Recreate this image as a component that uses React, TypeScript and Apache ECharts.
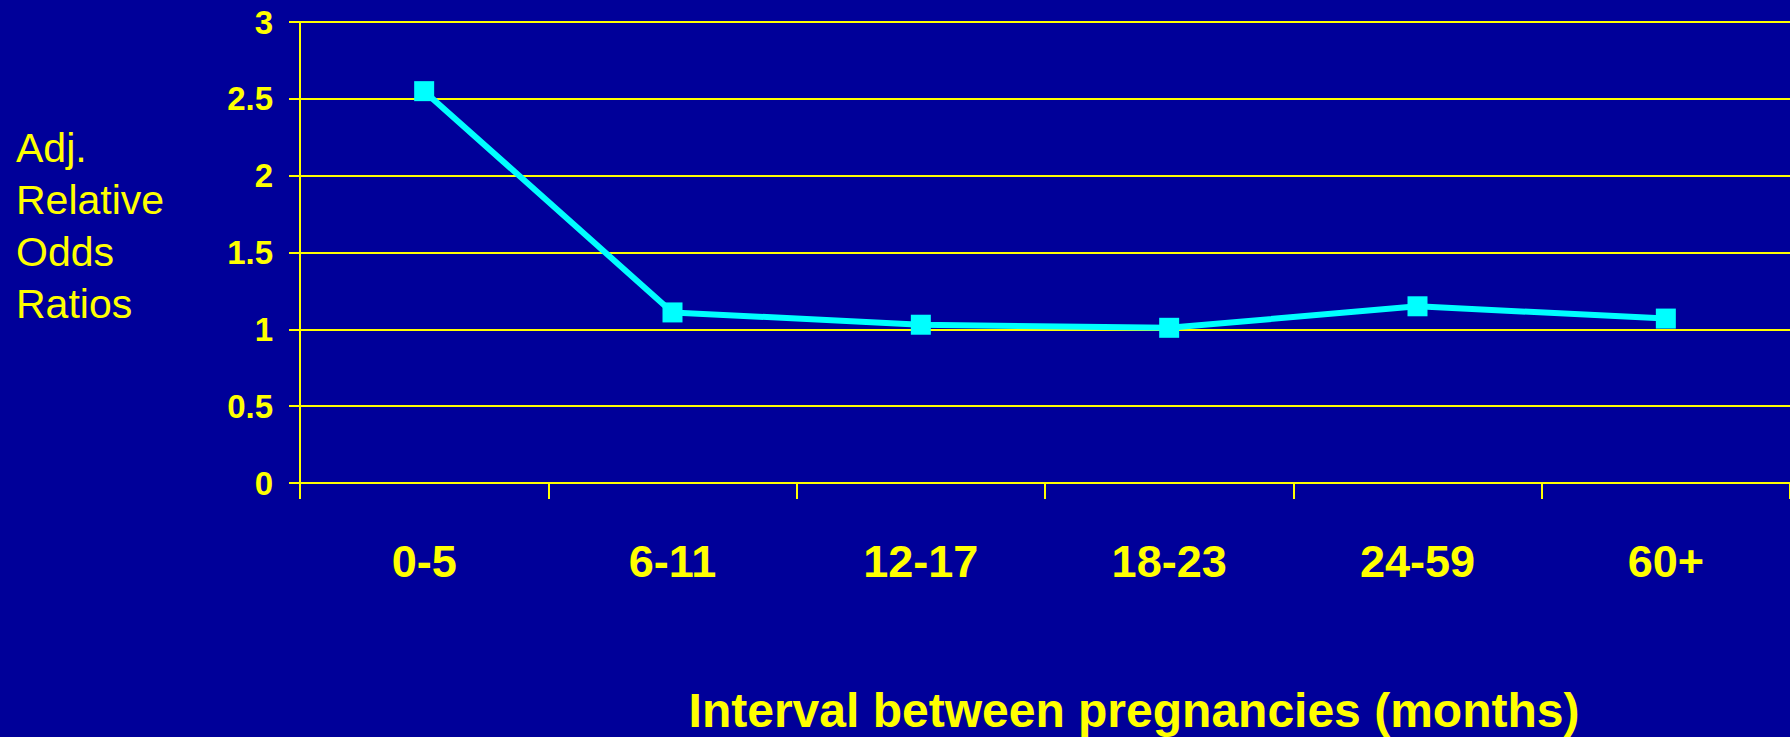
import React, { useEffect, useRef } from "react";
import * as echarts from "echarts";

const categories = ["0-5", "6-11", "12-17", "18-23", "24-59", "60+"];
const oddsRatios = [2.55, 1.11, 1.03, 1.01, 1.15, 1.07];
const yTicks = { min: 0, max: 3, interval: 0.5 };
const yTitleLines = ["Adj.", "Relative", "Odds", "Ratios"];
const xTitle = "Interval between pregnancies (months)";

const YELLOW = "#FFFF00";
const CYAN = "#00FFFF";
const BG = "#000099";
const FONT = "'Liberation Sans', Arial, Helvetica, sans-serif";

export default function App() {
  const ref = useRef<HTMLDivElement>(null);

  useEffect(() => {
    if (!ref.current) return;
    const chart = echarts.init(ref.current, undefined, { renderer: "svg" });
    chart.setOption({
      animation: false,
      backgroundColor: BG,
      grid: { left: 300, right: -4, top: 22, bottom: 254, containLabel: false },
      xAxis: {
        type: "category",
        data: categories,
        boundaryGap: true,
        axisLine: { show: true, lineStyle: { color: YELLOW, width: 2 } },
        axisTick: { show: true, length: 16, lineStyle: { color: YELLOW, width: 2 } },
        axisLabel: {
          color: YELLOW,
          fontFamily: FONT,
          fontWeight: "bold",
          fontSize: 45,
          margin: 56,
        },
        splitLine: { show: false },
      },
      yAxis: {
        type: "value",
        min: yTicks.min,
        max: yTicks.max,
        interval: yTicks.interval,
        axisLine: { show: true, lineStyle: { color: YELLOW, width: 2 } },
        axisTick: { show: true, length: 11, lineStyle: { color: YELLOW, width: 2 } },
        axisLabel: {
          color: YELLOW,
          fontFamily: FONT,
          fontWeight: "bold",
          fontSize: 33,
          margin: 27,
          padding: [6, 0, 0, 0],
        },
        splitLine: { show: true, lineStyle: { color: YELLOW, width: 2 } },
      },
      graphic: [
        {
          type: "text",
          left: 16,
          top: 122,
          style: {
            text: yTitleLines.join("\n"),
            fill: YELLOW,
            font: `41px ${FONT}`,
            lineHeight: 52,
          },
        },
        {
          type: "text",
          x: 1134,
          y: 710,
          style: {
            text: xTitle,
            fill: YELLOW,
            font: `bold 48px ${FONT}`,
            textAlign: "center",
            textVerticalAlign: "middle",
          },
        },
      ],
      series: [
        {
          type: "line",
          data: oddsRatios,
          symbol: "rect",
          symbolSize: 20,
          itemStyle: { color: CYAN },
          lineStyle: { color: CYAN, width: 6 },
        },
      ],
    });
    return () => chart.dispose();
  }, []);

  return (
    <div
      ref={ref}
      style={{ position: "fixed", left: 0, top: 0, width: 1790, height: 737 }}
    />
  );
}
